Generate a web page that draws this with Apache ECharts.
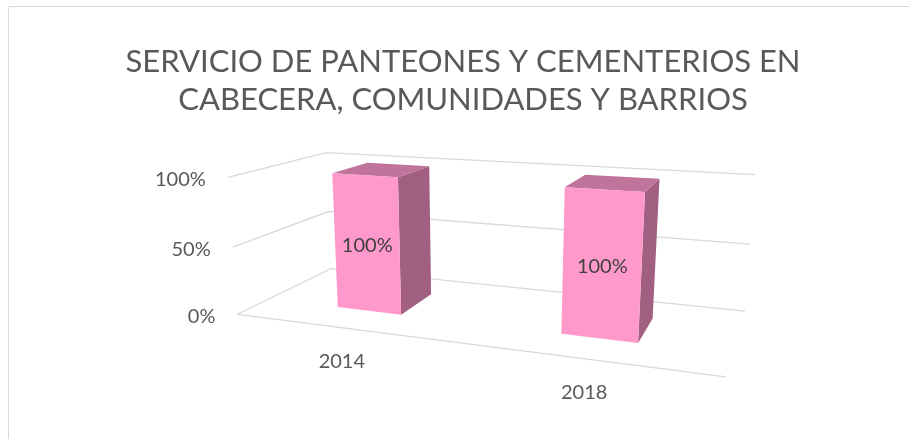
<!DOCTYPE html>
<html>
<head>
<meta charset="utf-8">
<script src="https://cdn.jsdelivr.net/npm/echarts@6/dist/echarts.min.js"></script>
<style>html,body{margin:0;padding:0;background:#fff}#c{width:909px;height:439px}</style>
</head>
<body>
<div id="c"></div>
<script>
// ---------- data ----------
const titleText = 'SERVICIO DE PANTEONES Y CEMENTERIOS EN\nCABECERA, COMUNIDADES Y BARRIOS';
const categories = ['2014', '2018'];
const values = [100, 100];
const dataLabels = ['100%', '100%'];
const valueTicks = [0, 50, 100];
const tickLabels = ['0%', '50%', '100%'];

// ---------- layout / style ----------
const FONT = 'Lato, "Open Sans", sans-serif';
const TEXT_COLOR = '#595959';
const GRID_COLOR = '#d9d9d9';
const FRONT_COLOR = '#ff99cc';
const TOP_COLOR = '#c0739b';
const SIDE_COLOR = '#a15f82';
const GAP_WIDTH = 2.3;
const BAR_Z0 = 0.3, BAR_Z1 = 0.7; // bar depth inside the floor
// perspective frame calibration: [worldX, worldY, worldZ, screenX, screenY]
const FRAME_ANCHORS = [
  [0, 0, 0, 238, 314], [1, 0, 0, 726, 377], [0, 0, 1, 330.5, 269], [1, 0, 1, 745, 311],
  [0, 0.5, 0, 233, 247.3], [0, 0.5, 1, 328, 211], [1, 0.5, 1, 750, 244.3],
  [0, 1, 0, 227, 177.3], [0, 1, 1, 327, 152.7], [1, 1, 1, 755, 174.5]
];

function solveLinear(M, r) {
  const n = r.length;
  const a = M.map((row, i) => row.concat([r[i]]));
  for (let c = 0; c < n; c++) {
    let piv = c;
    for (let k = c + 1; k < n; k++) if (Math.abs(a[k][c]) > Math.abs(a[piv][c])) piv = k;
    [a[c], a[piv]] = [a[piv], a[c]];
    for (let k = 0; k < n; k++) {
      if (k === c) continue;
      const f = a[k][c] / a[c][c];
      for (let j = c; j <= n; j++) a[k][j] -= f * a[c][j];
    }
  }
  return a.map((row, i) => row[n] / row[i]);
}
function fitCamera(anchors) {
  const S = 300, CX = 450, CY = 250;
  const A = [], b = [];
  anchors.forEach(([X, Y, Z, u0, v0]) => {
    const u = (u0 - CX) / S, v = (v0 - CY) / S;
    A.push([X, Y, Z, 1, 0, 0, 0, 0, -u * X, -u * Y, -u * Z]); b.push(u);
    A.push([0, 0, 0, 0, X, Y, Z, 1, -v * X, -v * Y, -v * Z]); b.push(v);
  });
  const n = 11;
  const M = [], r = [];
  for (let i = 0; i < n; i++) {
    M.push([]); let s = 0;
    for (let j = 0; j < n; j++) {
      let t = 0;
      for (let k = 0; k < A.length; k++) t += A[k][i] * A[k][j];
      M[i].push(t);
    }
    for (let k = 0; k < A.length; k++) s += A[k][i] * b[k];
    r.push(s);
  }
  const p = solveLinear(M, r);
  return function (X, Y, Z) {
    const w = p[8] * X + p[9] * Y + p[10] * Z + 1;
    return [CX + S * (p[0] * X + p[1] * Y + p[2] * Z + p[3]) / w,
            CY + S * (p[4] * X + p[5] * Y + p[6] * Z + p[7]) / w];
  };
}
const project = fitCamera(FRAME_ANCHORS);

function worldX(cs, px) { return (px - cs.x) / cs.width; }
function worldY(cs, py) { return (cs.y + cs.height - py) / cs.height; }

function renderGrid(params, api) {
  const cs = params.coordSys;
  const idx = params.dataIndex;
  const Y = worldY(cs, api.coord([0, api.value(1)])[1]);
  const lineStyle = { stroke: GRID_COLOR, lineWidth: 1.3, fill: null };
  const children = [{
    type: 'polyline',
    shape: { points: [project(0, Y, 0), project(0, Y, 1), project(1, Y, 1)] },
    style: lineStyle
  }];
  if (api.value(1) === 0) {
    children.push({ type: 'polyline', shape: { points: [project(0, 0, 0), project(1, 0, 0)] }, style: lineStyle });
  }
  const p = project(0, Y, 0);
  children.push({
    type: 'text',
    style: { text: tickLabels[idx], x: p[0] - 22, y: p[1] + 2, align: 'right', verticalAlign: 'middle',
      fontSize: 20, fontFamily: FONT, fill: TEXT_COLOR }
  });
  return { type: 'group', children };
}

function renderBar(params, api) {
  const cs = params.coordSys;
  const i = api.value(0);
  const c0 = api.coord([i, 0]);
  const c1 = api.coord([i, api.value(1)]);
  const band = api.size([1, 0])[0] / cs.width;
  const xc = worldX(cs, c0[0]);
  const w = band / (1 + GAP_WIDTH);
  const X0 = xc - w / 2, X1 = xc + w / 2;
  const Y = worldY(cs, c1[1]);
  const Z0 = BAR_Z0, Z1 = BAR_Z1;
  const front = [project(X0, 0, Z0), project(X1, 0, Z0), project(X1, Y, Z0), project(X0, Y, Z0)];
  const top = [project(X0, Y, Z0), project(X1, Y, Z0), project(X1, Y, Z1), project(X0, Y, Z1)];
  const side = [project(X1, 0, Z0), project(X1, 0, Z1), project(X1, Y, Z1), project(X1, Y, Z0)];
  const cx = (front[0][0] + front[1][0] + front[2][0] + front[3][0]) / 4;
  const cy = (front[0][1] + front[1][1] + front[2][1] + front[3][1]) / 4;
  const lab = project(xc, 0, 0);
  return {
    type: 'group',
    children: [
      { type: 'polygon', shape: { points: side }, style: { fill: SIDE_COLOR } },
      { type: 'polygon', shape: { points: top }, style: { fill: TOP_COLOR } },
      { type: 'polygon', shape: { points: front }, style: { fill: FRONT_COLOR } },
      { type: 'text', style: { text: dataLabels[i], x: cx, y: cy + 3, align: 'center', verticalAlign: 'middle',
          fontSize: 20, fontFamily: FONT, fill: '#404040' } },
      { type: 'text', style: { text: categories[i], x: lab[0], y: lab[1] + 34, align: 'center', verticalAlign: 'middle',
          fontSize: 20, fontFamily: FONT, fill: TEXT_COLOR } }
    ]
  };
}

const chart = echarts.init(document.getElementById('c'), null, { renderer: 'canvas' });
chart.setOption({
  animation: false,
  backgroundColor: '#ffffff',
  title: {
    text: titleText, left: 463, top: 43, textAlign: 'center', padding: 0,
    textStyle: { fontFamily: FONT, fontSize: 31, lineHeight: 38, fontWeight: 'normal', color: TEXT_COLOR }
  },
  graphic: [{
    type: 'rect', shape: { x: 8.5, y: 6.5, width: 920, height: 450 },
    style: { fill: null, stroke: GRID_COLOR, lineWidth: 1 }, silent: true, z: -10
  }],
  grid: { left: 0, top: 0, width: 909, height: 439, show: false },
  xAxis: { type: 'category', data: categories, show: false },
  yAxis: { type: 'value', min: 0, max: 100, show: false },
  series: [
    { type: 'custom', z: 1, renderItem: renderGrid, data: valueTicks.map(t => [0, t]), silent: true },
    { type: 'custom', z: 2, renderItem: renderBar, data: values.map((v, i) => [i, v]), silent: true }
  ]
});
</script>
</body>
</html>
